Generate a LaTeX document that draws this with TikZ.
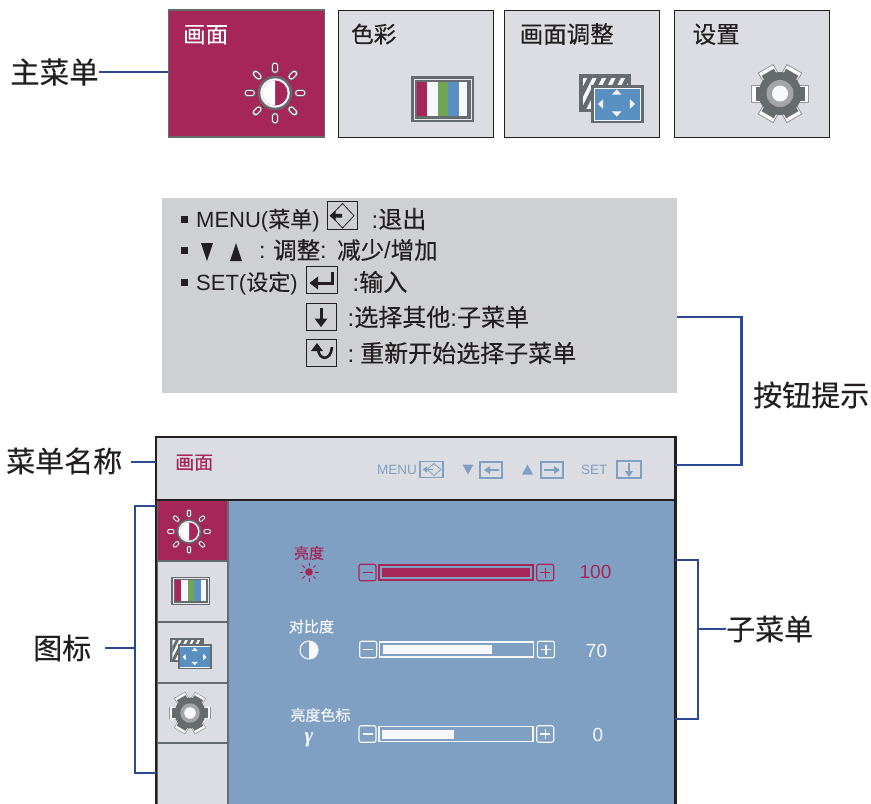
\documentclass[tikz,border=0pt]{standalone}
\usepackage{fontspec}
\setmainfont{Liberation Sans}
\newfontfamily\cjk[FakeBold=.25]{Noto Sans CJK SC}
\newfontfamily\serifgam{Liberation Serif}
\newcommand\cj[1]{{\cjk #1}}
\definecolor{mag}{HTML}{A6265A}
\definecolor{panel}{HTML}{DCDDE2}
\definecolor{hintbg}{HTML}{CFD0D2}
\definecolor{lead}{HTML}{2C4A94}
\definecolor{ink}{HTML}{231F20}
\definecolor{steel}{HTML}{666B6E}
\definecolor{skyb}{HTML}{7FA0C2}
\definecolor{cgreen}{HTML}{70A556}
\definecolor{cblue}{HTML}{5A8FC2}
\definecolor{white2}{HTML}{F6F8FB}
\tikzset{
  txt/.style={inner sep=0pt,font=\fontsize{#1}{#1}\selectfont,text height=#1*.88pt,text depth=#1*.12pt},
  tabbox/.style={inner sep=0pt,draw=ink,line width=1pt,fill=panel},
  leadline/.style={draw=lead,line width=2.6pt,line cap=butt,line join=miter},
  keybox/.style={draw=ink,line width=1pt,fill=none},
  mkey/.style={draw=skyb,line width=1.1pt,fill=none},
  cell/.style={draw=steel,line width=1.4pt,fill=panel},
}
% sun icon: x y scale background
\newcommand\sunicon[4]{%
\begin{scope}[shift={(#1,#2)},scale=#3]
 \foreach \a in {0,45,...,315}{
  \draw[rotate=\a,line cap=round,line width=#3*7.6pt,steel] (23,0)--(27.5,0);
  \draw[rotate=\a,line cap=round,line width=#3*5.6pt,white!85!panel] (23,0)--(27.5,0);
  \draw[rotate=\a,line cap=round,line width=#3*3.4pt,#4] (23,0)--(27.5,0);
 }
 \fill[steel] (0,0) circle (17.2);
 \fill[white] (0,0) circle (14.6);
 \fill[#4] (0,0) circle (12.6);
 \fill[white] (0,-12.6) arc (-90:-270:12.6) -- cycle;
\end{scope}}
% colour bars icon
\newcommand\colicon[3]{%
\begin{scope}[shift={(#1,#2)},scale=#3]
 \fill[steel] (-31.5,-23) rectangle (31.5,23);
 \draw[panel!70!white,line width=#3*.9pt] (-28.5,-20) rectangle (28.5,20);
 \fill[mag] (-25.5,-17.3) rectangle (-15.5,16.7);
 \fill[white2] (-15.5,-17.3) rectangle (-4.5,16.7);
 \fill[cgreen] (-4.5,-17.3) rectangle (5.5,16.7);
 \fill[cblue] (5.5,-17.3) rectangle (16.5,16.7);
 \fill[white2] (16.5,-17.3) rectangle (24.5,16.7);
\end{scope}}
% picture adjust icon
\newcommand\adjicon[3]{%
\begin{scope}[shift={(#1,#2)},scale=#3]
 \fill[steel] (-32,-24.5) rectangle (20,13.5);
 \begin{scope}
  \clip (-28.5,-21) rectangle (17,10);
  \fill[white2] (-28.5,-21) rectangle (17,10);
  \foreach \k in {-4,...,6}
   \fill[steel] (\k*9.5-14,-21) -- ++(5,0) -- ++(-17,34) -- ++(-5,0) -- cycle;
 \end{scope}
 \fill[steel] (-20.5,-14) rectangle (32.5,24.5);
 \fill[white2] (-17.5,-11) rectangle (29.5,22);
 \fill[cblue] (-16.5,-10) rectangle (28.5,21);
 \fill[white2] (5.7,-9) -- (10.5,-3.8) -- (.9,-3.8) -- cycle;
 \fill[white2] (5.7,18) -- (10.5,12.8) -- (.9,12.8) -- cycle;
 \fill[white2] (-13,5.5) -- (-7.8,.7) -- (-7.8,10.3) -- cycle;
 \fill[white2] (24,5.5) -- (18.8,.7) -- (18.8,10.3) -- cycle;
\end{scope}}
% gear icon
\newcommand\gearicon[3]{%
\begin{scope}[shift={(#1,#2)},scale=#3]
 \foreach \a in {0,60,...,300}{
  \fill[rotate=\a,steel!70!white] (14,-9) rectangle (29,9);
  \fill[rotate=\a,white!92!panel] (14,-8) rectangle (28,8);
  \fill[rotate=\a,steel] (14,-7) rectangle (24.5,7);
 }
 \fill[steel] (0,0) circle (21.5);
 \fill[gray!60!panel] (0,0) circle (13.5);
 \fill[white2] (0,0) circle (8);
\end{scope}}
\newcommand\vala{100}\newcommand\valb{70}\newcommand\valc{0}
\newcommand\sliderrow[9]{%
 \node[draw=#1,line width=1.1pt,rounded corners=2pt,inner sep=0pt,minimum width=17pt,minimum height=16.5pt] (mn#2) at (367.5+#8,#3+8.5) {};
 \draw[#1,line width=1.2pt] (362.5+#8,#3+8.5) -- (372.5+#8,#3+8.5);
 \node[draw=#1,line width=1.1pt,rounded corners=2pt,inner sep=0pt,minimum width=17pt,minimum height=16.5pt] (pl#2) at (545.2+#8,#3+8.5) {};
 \draw[#1,line width=1.2pt] (540+#8,#3+8.5) -- (550.4+#8,#3+8.5) (545.2+#8,#3+3.5) -- (545.2+#8,#3+13.5);
 \draw[#1,line width=1.1pt] (379+#8,#3+1) rectangle (533+#8,#3+16);
 \fill[#1] (382+#8,#3+#5) rectangle (#4,#3+#6);
 \node[txt=19,text=#1] (v#2) at (#7,#3+7.5+#9) {\csname val#2\endcsname};
}
\begin{document}
\begin{tikzpicture}[x=1pt,y=-1pt]
\useasboundingbox (0,0) rectangle (871,804);
\fill[white] (0,0) rectangle (871,804);
% ---- top tabs
\node[tabbox,draw=steel,line width=1.8pt,fill=mag,minimum width=156pt,minimum height=126.5pt] (tab1) at (246.5,73.5) {};
\node[tabbox,minimum width=155pt,minimum height=127pt] (tab2) at (415.5,73.5) {};
\node[tabbox,minimum width=155pt,minimum height=127pt] (tab3) at (581.5,73.5) {};
\node[tabbox,minimum width=155pt,minimum height=127pt] (tab4) at (751.5,73.5) {};
\node[txt=22.5,anchor=west,text=white] (t1) at (183,34) {\cj{画面}};
\node[txt=22.5,anchor=west,text=ink] (t2) at (351,34) {\cj{色彩}};
\node[txt=23.5,anchor=west,text=ink] (t3) at (519.5,34) {\cj{画面调整}};
\node[txt=23.5,anchor=west,text=ink] (t4) at (692.5,34) {\cj{设置}};
\sunicon{275}{93}{1}{mag}
\colicon{442.5}{99}{1}
\adjicon{611}{98.5}{1}
\gearicon{780}{93.5}{1}
% ---- side labels
\node[txt=29.5,anchor=west,text=ink] (lmain) at (10,72) {\cj{主菜单}};
\node[txt=29,anchor=west,text=ink] (lbtn) at (753,395) {\cj{按钮提示}};
\node[txt=29,anchor=west,text=ink] (lname) at (6,461) {\cj{菜单名称}};
\node[txt=29,anchor=west,text=ink] (licon) at (33,648) {\cj{图标}};
\node[txt=29,anchor=west,text=ink] (lsub) at (726,629) {\cj{子菜单}};
% ---- hint box
\node[inner sep=0pt,fill=hintbg,minimum width=515pt,minimum height=195pt] (hint) at (419.5,295.5) {};
\foreach \yy in {219,250,282}\fill[ink] (180.5,\yy-2.8) rectangle (188,\yy+4.2);
\node[txt=22,anchor=west,text=ink] (h1) at (196,219) {MENU(\cj{菜单})};
\node[keybox,inner sep=0pt,minimum width=30pt,minimum height=28pt] (k1) at (342,215.7) {};
\draw[ink,line width=.8pt] (342.5,203.5) -- (354,215.7) -- (342.5,228) -- (331,215.7) -- cycle;
\fill[ink] (329.5,215.7) -- (335.5,210.5) -- (335.5,213.9) -- (342,213.9) -- (342,217.5) -- (335.5,217.5) -- (335.5,221) -- cycle;
\node[txt=24,anchor=west,text=ink] (h1b) at (371.5,219) {:\cj{退出}};
\fill[ink] (201,243) -- (213,243) -- (207,261) -- cycle;
\fill[ink] (230,261) -- (242,261) -- (236,243) -- cycle;
\node[txt=23,anchor=west,text=ink] (h2) at (259,250) {:};
\node[txt=23.5,anchor=west,text=ink] (h2a) at (273,250) {\cj{调整}:};
\node[txt=23.5,anchor=west,text=ink] (h2b) at (337,250) {\cj{减少}/\cj{增加}};
\node[txt=22,anchor=west,text=ink] (h3) at (196,282) {SET(\cj{设定})};
\node[keybox,inner sep=0pt,minimum width=31pt,minimum height=26.5pt] (k2) at (321.5,280) {};
\draw[ink,line width=3pt] (332,271.5) -- (332,283) -- (315,283);
\fill[ink] (309.5,283) -- (318,276.5) -- (318,289.5) -- cycle;
\node[txt=24,anchor=west,text=ink] (h3b) at (352.5,282) {:\cj{输入}};
\node[keybox,inner sep=0pt,minimum width=30pt,minimum height=27pt] (k3) at (321,316.5) {};
\draw[ink,line width=3pt] (321,307.5) -- (321,320);
\fill[ink] (321,327) -- (314.5,318.5) -- (327.5,318.5) -- cycle;
\node[txt=24,anchor=west,text=ink] (h4) at (347.5,317) {:\cj{选择其他}:\cj{子菜单}};
\node[keybox,inner sep=0pt,minimum width=30pt,minimum height=27pt] (k4) at (321,352.5) {};
\draw[ink,line width=2.6pt] (318,349) .. controls (319,361) and (331,361) .. (332,347);
\fill[ink] (317,343) -- (311,351) -- (323,351) -- cycle;
\node[txt=24,anchor=west,text=ink] (h5) at (347.5,353) {:};
\node[txt=24,anchor=west,text=ink] (h5b) at (360,353) {\cj{重新开始选择子菜单}};
% ---- monitor
\fill[skyb] (228,500) rectangle (675,804);
\node[inner sep=0pt,fill=panel,minimum width=518pt,minimum height=63pt] (hdr) at (416,468.5) {};
\node[cell,fill=mag,inner sep=0pt,minimum width=71pt,minimum height=61pt] (c1) at (192.5,530.5) {};
\node[cell,inner sep=0pt,minimum width=71pt,minimum height=61pt] (c2) at (192.5,591.5) {};
\node[cell,inner sep=0pt,minimum width=71pt,minimum height=61pt] (c3) at (192.5,652.5) {};
\node[cell,inner sep=0pt,minimum width=71pt,minimum height=60pt] (c4) at (192.5,713) {};
\node[cell,inner sep=0pt,minimum width=71pt,minimum height=70pt] (c5) at (192.5,778) {};
\draw[ink,line width=1.3pt] (157,500) -- (676,500);
\draw[ink,line width=2.8pt] (156,804) -- (156,437) -- (675.5,437) -- (675.5,804);
\sunicon{189}{531.5}{.72}{mag}
\colicon{190.5}{591}{.62}
\adjicon{191}{653.5}{.65}
\gearicon{190}{713}{.72}
% header keys
\node[txt=19,anchor=west,text=mag] (hname) at (175,462) {\cj{画面}};
\node[txt=13.5,anchor=west,text=skyb] (hmenu) at (377,469) {MENU};
\node[mkey,inner sep=0pt,minimum width=23pt,minimum height=15.5pt] (m1) at (431.5,469.5) {};
\draw[skyb,line width=.8pt] (434,463.5) -- (441,469.5) -- (434,475.5) -- (427,469.5) -- cycle;
\draw[skyb,line width=1.4pt] (433,469.5) -- (426,469.5);
\fill[skyb] (422.5,469.5) -- (427,466.5) -- (427,472.5) -- cycle;
\fill[skyb] (462.5,464.5) -- (473.5,464.5) -- (468,474.5) -- cycle;
\node[mkey,inner sep=0pt,minimum width=22pt,minimum height=16pt] (m2) at (491,470) {};
\draw[skyb,line width=1.8pt] (499,470) -- (489,470);
\fill[skyb] (484,470) -- (490,466) -- (490,474) -- cycle;
\fill[skyb] (522,474.5) -- (533,474.5) -- (527.5,464.5) -- cycle;
\node[mkey,inner sep=0pt,minimum width=22pt,minimum height=16pt] (m3) at (552,470) {};
\draw[skyb,line width=1.8pt] (544,470) -- (554,470);
\fill[skyb] (560,470) -- (554,466) -- (554,474) -- cycle;
\node[txt=13.5,anchor=west,text=skyb] (hset) at (581,469) {SET};
\node[mkey,inner sep=0pt,minimum width=24pt,minimum height=17pt] (m4) at (629,469.5) {};
\draw[skyb,line width=1.8pt] (629,463) -- (629,472);
\fill[skyb] (629,477) -- (625,471) -- (633,471) -- cycle;
% ---- submenu rows
\node[txt=15,text=mag] (r1) at (309,553) {\cj{亮度}};
\node[txt=15,text=white2] (r2) at (311.5,626.5) {\cj{对比度}};
\node[txt=15,text=white2] (r3) at (320.5,715) {\cj{亮度色标}};
\fill[mag] (309,572) circle (3.8);
\foreach \a in {0,45,...,315}\draw[mag,line width=.9pt,rotate around={\a:(309,572)}] (315,572) -- (318.5,572);
\fill[white2] (309,641) arc (-90:90:9) -- cycle;
\draw[white2,line width=1.1pt] (309,650) circle (9);
\node[txt=21,text=white2] (gam) at (309,735) {\serifgam\bfseries\itshape γ};
\sliderrow{mag}{a}{564}{530}{3.8}{13}{595.5}{0}{0}
\sliderrow{white2}{b}{641}{492}{4}{13}{596.5}{.7}{1.5}
\sliderrow{white2}{c}{725.5}{454}{4.5}{13.5}{598}{0}{1}
% ---- connectors
\coordinate (ahint) at (hint.east |- 0,317);
\coordinate (ahdr) at (675,465);
\draw[leadline] (lmain.east) -- (lmain.east -| tab1.west);
\draw[leadline] (ahint) -- ++(64,0) |- (ahdr);
\coordinate (anm0) at (131,462);
\coordinate (anm) at (156,462);
\draw[leadline] (anm0) -- (anm);
\coordinate (b1) at (156,506);
\coordinate (b2) at (156,773);
\draw[leadline] (b1) -- (135,506) -- (135,773) -- (b2);
\coordinate (ic0) at (105,648);
\coordinate (ic1) at (135,648);
\draw[leadline] (ic0) -- (ic1);
\coordinate (s1) at (675,560);
\coordinate (s2) at (675,719);
\coordinate (s3) at (698,629);
\draw[leadline] (s1) -- (698,560) -- (698,719) -- (s2);
\draw[leadline] (s3) -- (lsub.west);
\end{tikzpicture}
\end{document}
